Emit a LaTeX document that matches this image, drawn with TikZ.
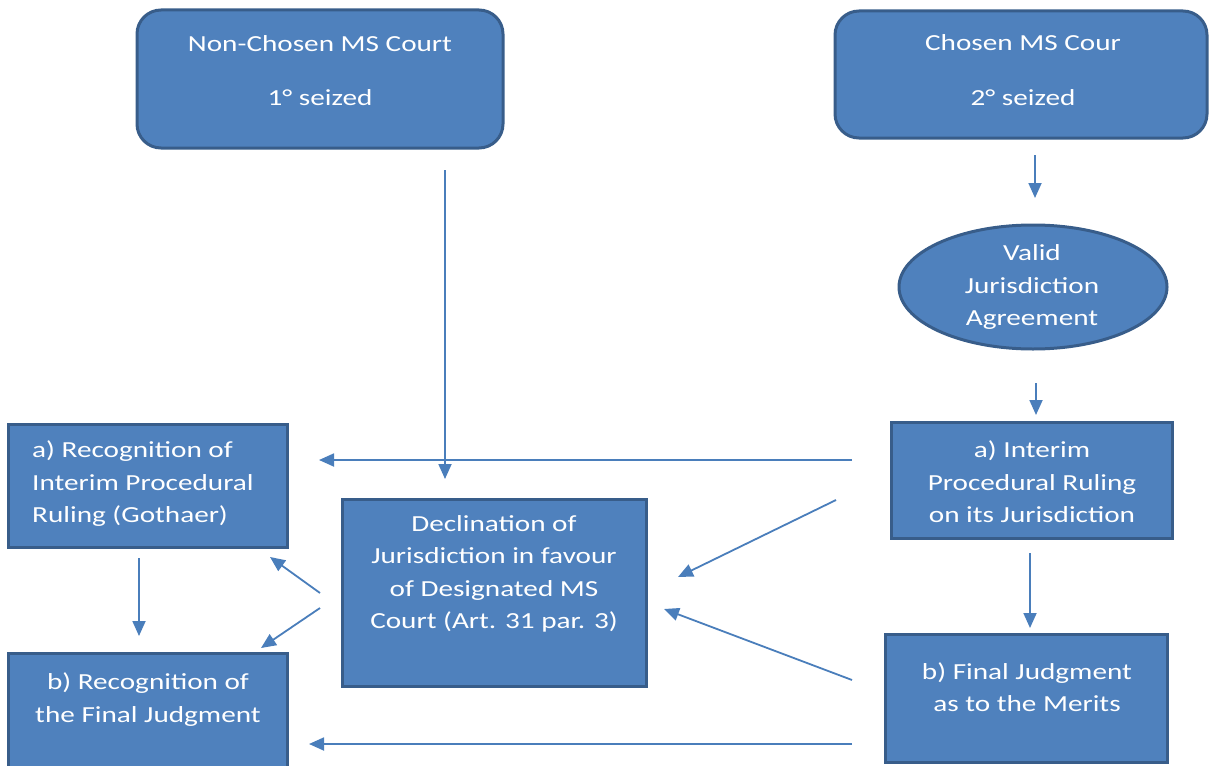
\documentclass[tikz,border=0pt]{standalone}
\usepackage{fontspec}
\setmainfont{Carlito}[FakeStretch=1.27]
\usetikzlibrary{arrows.meta,shapes.geometric}
\definecolor{boxfill}{HTML}{4F81BD}
\definecolor{boxline}{HTML}{385D8A}
\definecolor{arrowcol}{HTML}{4A7EBB}
\tikzset{
  box/.style={draw=boxline, fill=boxfill, line width=3pt, inner sep=0pt},
  rbox/.style={box, rounded corners=24pt},
  oval/.style={box, ellipse},
  txt/.style={text=white, font=\fontsize{23}{32.5}\selectfont, inner sep=0pt, align=center},
  conn/.style={draw=arrowcol, line width=1.8pt, -{Triangle[length=15pt,width=13pt]}},
}
\begin{document}
\begin{tikzpicture}[x=1pt,y=-1pt]
\useasboundingbox (0,0) rectangle (1209,765);
\clip (0,0) rectangle (1209,765);
% shapes
\node[rbox, minimum width=366pt, minimum height=138pt] (nc) at (320,79) {};
\node[rbox, minimum width=372pt, minimum height=127pt] (ch) at (1021,74.5) {};
\node[oval, minimum width=268pt, minimum height=124pt] (va) at (1033,287) {};
\node[box, minimum width=281pt, minimum height=116pt] (ir) at (1031.5,480) {};
\node[box, minimum width=282pt, minimum height=128pt] (fj) at (1026,698) {};
\node[box, minimum width=304pt, minimum height=187pt] (de) at (494,592.5) {};
\node[box, minimum width=279pt, minimum height=123pt] (ra) at (147.5,485.5) {};
\node[box, minimum width=279pt, minimum height=130pt] (rb) at (147.5,718) {};
% texts
\node[txt] (nct1) at (320,44) {Non-Chosen MS Court};
\node[txt] (nct2) at (320,98) {1° seized};
\node[txt] (cht1) at (1023,43) {Chosen MS Cour};
\node[txt] (cht2) at (1023,98) {2° seized};
\node[txt] (vat) at (1032,287) {Valid\\Jurisdiction\\Agreement};
\node[txt] (irt) at (1032,482) {a) Interim\\Procedural Ruling\\on its Jurisdiction};
\node[txt] (fjt) at (1027,687) {b) Final Judgment\\as to the Merits};
\node[txt] (det) at (494,574) {Declination of\\Jurisdiction in favour\\of Designated MS\\Court (Art. 31 par. 3)};
\node[txt, align=left, anchor=west] (rat) at (32,484) {a) Recognition of\\Interim Procedural\\Ruling (Gothaer)};
\node[txt] (rbt) at (148,699.5) {b) Recognition of\\the Final Judgment};
% connector end points
\coordinate (c1s) at (1035,155); \coordinate (c1e) at (1035,198);
\coordinate (c2s) at (1036,383); \coordinate (c2e) at (1036,415);
\coordinate (c3s) at (1030,553); \coordinate (c3e) at (1030,628);
\coordinate (c4s) at (445,170);  \coordinate (c4e) at (445,479);
\coordinate (c5s) at (852,460);  \coordinate (c5e) at (319,460);
\coordinate (c6s) at (836,500);  \coordinate (c6e) at (678,577);
\coordinate (c7s) at (852,680);  \coordinate (c7e) at (664,609);
\coordinate (c8s) at (852,744);  \coordinate (c8e) at (309,744);
\coordinate (c9s) at (139,558);  \coordinate (c9e) at (139,636);
\coordinate (c10s) at (320,593); \coordinate (c10e) at (270,557);
\coordinate (c11s) at (320,608); \coordinate (c11e) at (261,648);
% connectors
\draw[conn] (c1s) -- (c1e);
\draw[conn] (c2s) -- (c2e);
\draw[conn] (c3s) -- (c3e);
\draw[conn] (c4s) -- (c4e);
\draw[conn] (c5s) -- (c5e);
\draw[conn] (c6s) -- (c6e);
\draw[conn] (c7s) -- (c7e);
\draw[conn] (c8s) -- (c8e);
\draw[conn] (c9s) -- (c9e);
\draw[conn] (c10s) -- (c10e);
\draw[conn] (c11s) -- (c11e);
\end{tikzpicture}
\end{document}
